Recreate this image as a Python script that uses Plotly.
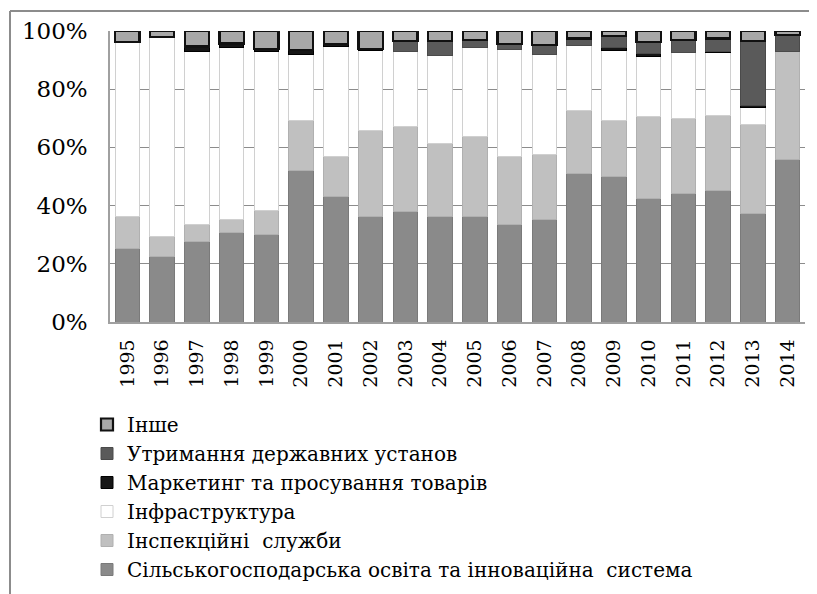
import plotly.graph_objects as go

years = [str(y) for y in range(1995, 2015)]

names = [
    "Сільськогосподарська освіта та інноваційна  система",
    "Інспекційні  служби",
    "Інфраструктура",
    "Маркетинг та просування товарів",
    "Утримання державних установ",
    "Інше",
]

education = [25.4, 22.5, 27.7, 30.7, 29.9, 52.2, 43.1, 36.2, 37.9, 36.2, 36.2, 33.4, 35.1, 50.9, 49.9, 42.5, 44.2, 45.1, 37.4, 55.7]
inspection = [10.8, 6.9, 5.7, 4.6, 8.3, 17.2, 13.7, 29.7, 29.2, 25.2, 27.5, 23.4, 22.3, 21.9, 19.5, 28.0, 25.7, 26.0, 30.3, 37.1]
infrastructure = [60.0, 68.5, 59.4, 59.0, 54.6, 22.5, 37.9, 27.5, 25.7, 30.3, 30.8, 36.8, 34.5, 22.3, 24.0, 20.9, 22.6, 21.4, 6.0, 0.0]
marketing = [0, 0, 1.9, 1.4, 1.1, 1.5, 0.7, 0.6, 0, 0, 0, 0, 0, 0, 0.9, 0.8, 0, 0.3, 0.8, 0]
maintenance = [0, 0, 0, 0, 0, 0, 0, 0, 3.8, 4.9, 2.5, 1.8, 3.2, 2.3, 3.9, 4.0, 4.3, 4.6, 22.1, 5.7]
other = [3.8, 2.1, 5.3, 4.3, 6.1, 6.6, 4.6, 6.1, 3.4, 3.4, 3.0, 4.6, 4.9, 2.6, 1.8, 3.8, 3.2, 2.6, 3.4, 1.5]

y_tick_vals = [0, 20, 40, 60, 80, 100]
y_tick_text = ["0%", "20%", "40%", "60%", "80%", "100%"]

series = [education, inspection, infrastructure, marketing, maintenance, other]
colors = ["#8a8a8a", "#c0c0c0", "#ffffff", "#161616", "#5a5a5a", "#a8a8a8"]
line_colors = ["#7a7a7a", "#b0b0b0", "#d0d0d0", "#000000", "#4a4a4a", "#111111"]
line_widths = [1, 1, 1, 1, 1, 2.2]

FONT = "DejaVu Serif, Times New Roman, serif"

# page body has an 8px default margin, so the figure is sized to fit inside it
W, H = 809, 586
ML, MR, MT, MB = 102, 12, 23, 272
PW, PH = W - ML - MR, H - MT - MB

fig = go.Figure()
for name, vals, c, lc, lw in zip(names, series, colors, line_colors, line_widths):
    fig.add_trace(go.Bar(
        x=years, y=vals, name=name,
        marker=dict(color=c, line=dict(color=lc, width=lw)),
    ))

fig.update_layout(
    template="none",
    barmode="stack",
    barnorm="percent",
    bargap=0.3,
    width=W, height=H,
    margin=dict(l=ML, r=MR, t=MT, b=MB, autoexpand=False),
    plot_bgcolor="white",
    paper_bgcolor="white",
    font=dict(family=FONT, size=20, color="black"),
    legend=dict(
        traceorder="reversed",
        x=-23 / PW, xanchor="left",
        y=-83 / PH, yanchor="top",
        font=dict(family=FONT, size=20, color="black"),
        itemwidth=30,
        tracegroupgap=0,
        bgcolor="rgba(0,0,0,0)",
    ),
    showlegend=True,
    yaxis=dict(
        range=[0, 100],
        tickmode="array",
        tickvals=y_tick_vals,
        ticktext=y_tick_text,
        showgrid=True, gridcolor="#8c8c8c", gridwidth=1,
        showline=True, linecolor="#a0a0a0", linewidth=1.5,
        ticks="",
        ticklabelstandoff=16,
        tickfont=dict(family=FONT, size=23, color="black"),
        zeroline=False,
        automargin=False,
    ),
    xaxis=dict(
        type="category",
        tickmode="array",
        tickvals=years,
        ticktext=years,
        tickangle=-90,
        showline=True, linecolor="#a0a0a0", linewidth=1.5,
        tickfont=dict(family=FONT, size=19, color="black"),
        ticks="",
        ticklabelstandoff=8,
        showgrid=False,
        automargin=False,
    ),
)

# outer frame lines (left and top)
fx = (2 - ML) / PW
fy = (H - MB - 3) / PH
fig.add_shape(type="line", xref="paper", yref="paper",
              x0=fx, x1=1.05, y0=fy, y1=fy,
              line=dict(color="#8c8c8c", width=2))
fig.add_shape(type="line", xref="paper", yref="paper",
              x0=fx, x1=fx, y0=fy, y1=-1.0,
              line=dict(color="#8c8c8c", width=2))

fig.write_html("out.html")
